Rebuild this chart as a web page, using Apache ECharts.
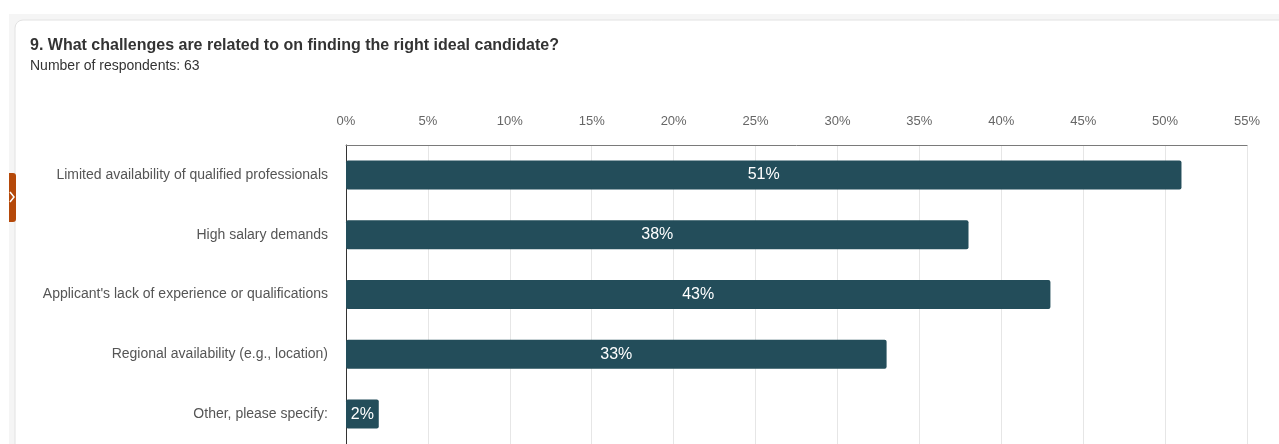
<!DOCTYPE html>
<html>
<head>
<meta charset="utf-8">
<script src="https://cdn.jsdelivr.net/npm/echarts@6/dist/echarts.min.js"></script>
<style>
  html, body { margin: 0; padding: 0; background: #ffffff; }
  #chart { width: 1279px; height: 444px; }
</style>
</head>
<body>
<div id="chart"></div>
<script>
// Survey answers, share of respondents (%)
const categories = [
  'Limited availability of qualified professionals',
  'High salary demands',
  "Applicant's lack of experience or qualifications",
  'Regional availability (e.g., location)',
  'Other, please specify:'
];
const shares = [51, 38, 43, 33, 2];
const axisTicks = { min: 0, max: 55, step: 5 };
const titleText = '9. What challenges are related to on finding the right ideal candidate?';
const subtitleText = 'Number of respondents: 63';

const FONT = '"Liberation Sans", Arial, sans-serif';
const chart = echarts.init(document.getElementById('chart'), null, { renderer: 'canvas' });

chart.setOption({
  animation: false,
  backgroundColor: '#ffffff',
  textStyle: { fontFamily: FONT },
  graphic: [
    // page backdrop band and the card holding the chart
    { type: 'rect', z: -10, silent: true,
      shape: { x: 9, y: 14, width: 1280, height: 440 },
      style: { fill: '#f5f5f5' } },
    { type: 'rect', z: -9, silent: true,
      shape: { x: 15, y: 20, width: 1290, height: 440, r: 8 },
      style: { fill: '#ffffff', stroke: '#e2e2e2', lineWidth: 1 } },
    // side drawer handle
    { type: 'rect', z: 5, silent: true,
      shape: { x: 9, y: 173, width: 7, height: 49, r: [0, 3, 3, 0] },
      style: { fill: '#b5490a' } },
    { type: 'polyline', z: 6, silent: true,
      shape: { points: [[10, 192], [14, 197], [10, 202]] },
      style: { stroke: '#ffffff', lineWidth: 1.5, fill: null } }
  ],
  title: {
    text: titleText,
    subtext: subtitleText,
    left: 25,
    top: 33,
    itemGap: 5,
    textStyle: { fontFamily: FONT, fontSize: 16, fontWeight: 'bold', color: '#333333' },
    subtextStyle: { fontFamily: FONT, fontSize: 14, color: '#333333' }
  },
  grid: { left: 346, right: 32, top: 145, height: 300, containLabel: false },
  xAxis: {
    type: 'value',
    position: 'top',
    min: axisTicks.min,
    max: axisTicks.max,
    interval: axisTicks.step,
    axisLine: { show: true, lineStyle: { color: '#7a7a7a', width: 1 } },
    axisTick: { show: false },
    axisLabel: {
      formatter: '{value}%',
      color: '#666666',
      fontSize: 13,
      fontFamily: FONT,
      margin: 17
    },
    splitLine: { show: true, lineStyle: { color: '#e6e6e6', width: 1 } }
  },
  yAxis: {
    type: 'category',
    inverse: true,
    data: categories,
    axisLine: { show: true, lineStyle: { color: '#333333', width: 1 } },
    axisTick: { show: false },
    axisLabel: { color: '#555555', fontSize: 14, fontFamily: FONT, margin: 18 }
  },
  series: [{
    type: 'bar',
    data: shares,
    barWidth: 29,
    itemStyle: { color: '#234d5a', borderRadius: 2 },
    label: {
      show: true,
      position: 'inside',
      formatter: '{c}%',
      color: '#ffffff',
      fontSize: 16,
      fontFamily: FONT
    }
  }]
});
</script>
</body>
</html>
